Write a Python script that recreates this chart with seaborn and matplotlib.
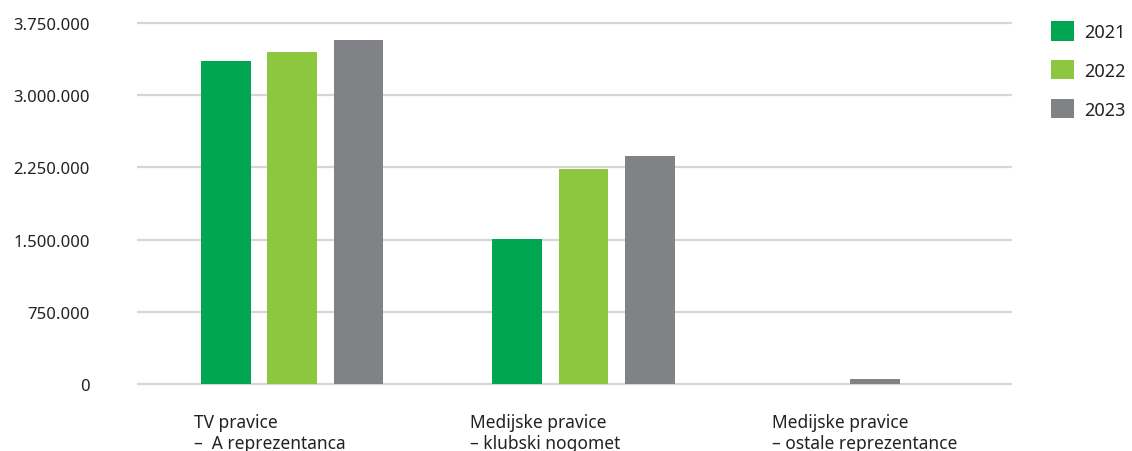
import matplotlib
matplotlib.use("Agg")
import matplotlib.pyplot as plt
import seaborn as sns
import pandas as pd
from matplotlib.patches import Patch
from matplotlib.ticker import FuncFormatter

categories = ["TV pravice", "Medijske pravice klubski", "Medijske pravice ostale"]
cat_labels = ["TV pravice\n–  A reprezentanca",
              "Medijske pravice\n– klubski nogomet",
              "Medijske pravice\n– ostale reprezentance"]
years = ["2021", "2022", "2023"]
v2021 = [3355000, 1505000, 0]
v2022 = [3450000, 2233000, 0]
v2023 = [3575000, 2368000, 50000]
colors = ["#00a651", "#8dc63f", "#808285"]
yticks = [0, 750000, 1500000, 2250000, 3000000, 3750000]

sns.set_theme(style="white")
plt.rcParams['font.family'] = ['Noto Sans', 'DejaVu Sans']

rows = []
for c, a, b, d in zip(categories, v2021, v2022, v2023):
    for y, v in zip(years, [a, b, d]):
        rows.append({"cat": c, "year": y, "val": v})
df = pd.DataFrame(rows)

W, H = 1132, 452
fig = plt.figure(figsize=(W / 100, H / 100), dpi=100)
ylo, yhi = -20000, 3770000
ppu = 361 / 3750000
bot_px = 385 + (0 - ylo) * ppu
top_px = 24 - (yhi - 3750000) * ppu
ax = fig.add_axes([137 / W, (H - bot_px) / H, (1012 - 137) / W, (bot_px - top_px) / H])

main = df[df["cat"] != categories[2]]
sns.barplot(data=main, x="cat", y="val", hue="year", order=categories, hue_order=years,
            palette=colors, width=0.684, gap=0.25, ax=ax, legend=False,
            saturation=1, errorbar=None, linewidth=0, edgecolor="none")
third = df[(df["cat"] == categories[2]) & (df["val"] > 0)]
sns.barplot(data=third, x="cat", y="val", order=categories, color=colors[2],
            width=0.171, ax=ax, saturation=1, errorbar=None, linewidth=0, edgecolor="none")

ax.set_xlim(-0.532, 2.47)
ax.set_ylim(ylo, yhi)
ax.set_yticks(yticks)
ax.yaxis.set_major_formatter(FuncFormatter(lambda v, p: f"{int(v):,}".replace(",", ".")))
ax.tick_params(axis="y", length=0, pad=34, labelsize=12, labelcolor="#222222")
ax.set_xticks([])
ax.set_xlabel("")
ax.set_ylabel("")
for s in ax.spines.values():
    s.set_visible(False)
ax.set_axisbelow(True)
ax.yaxis.grid(True, color="#d6d6d6", linewidth=1.6)

label_x = [194, 470, 772]
for lx, t in zip(label_x, cat_labels):
    fig.text(lx / W, 1 - 414 / H, t, ha="left", va="top", fontsize=12.5,
             color="#222222", linespacing=1.2)

handles = [Patch(facecolor=c, edgecolor="none") for c in colors]
fig.legend(handles, years, loc="upper left", bbox_to_anchor=(1046 / W, 1 - 17 / H),
           frameon=False, fontsize=13, handlelength=1.27, handleheight=1.27,
           labelspacing=1.05, handletextpad=0.55, borderaxespad=0, borderpad=0.3,
           labelcolor="#222222")

fig.savefig("out.png", dpi=100)
